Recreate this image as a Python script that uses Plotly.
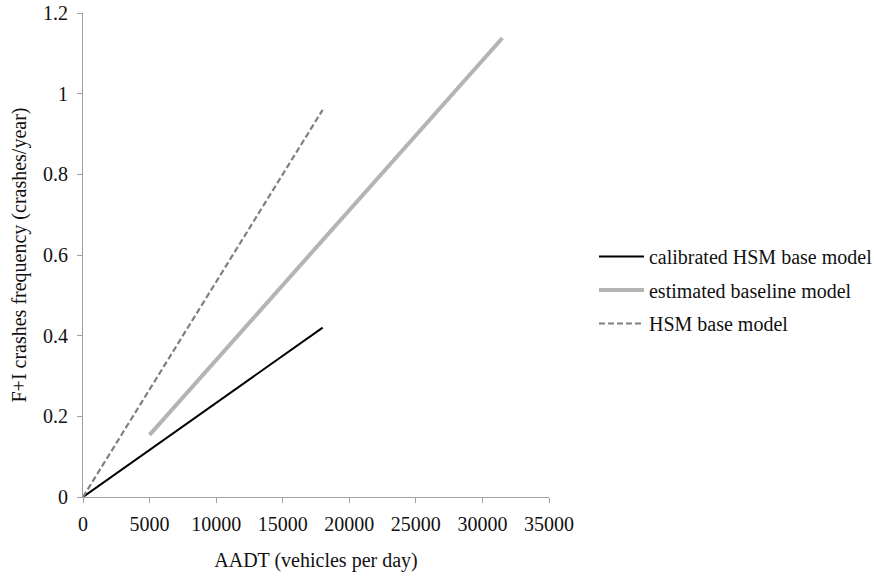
import plotly.graph_objects as go

# Data
calib_x = [0, 5000, 10000, 15000, 18000]
calib_y = [0, 0.117, 0.233, 0.35, 0.42]

est_x = [5000, 10000, 15000, 20000, 25000, 30000, 31500]
est_y = [0.154, 0.34, 0.526, 0.712, 0.897, 1.083, 1.138]

hsm_x = [0, 5000, 10000, 15000, 18000]
hsm_y = [0, 0.267, 0.533, 0.8, 0.96]

font_family = "Liberation Serif, Times New Roman, serif"

fig = go.Figure()
fig.add_trace(go.Scatter(x=calib_x, y=calib_y, mode="lines",
                         name="calibrated HSM base model", legendgroup="a",
                         line=dict(color="black", width=2)))
fig.add_trace(go.Scatter(x=est_x, y=est_y, mode="lines",
                         name="estimated baseline model", legendgroup="b",
                         line=dict(color="#b4b4b4", width=4)))
fig.add_trace(go.Scatter(x=hsm_x, y=hsm_y, mode="lines",
                         name="HSM base model", legendgroup="c",
                         line=dict(color="#7f7f7f", width=2.2, dash="6px,3px")))

fig.update_layout(
    width=874, height=576,
    margin=dict(l=83, r=325, t=13, b=79),
    plot_bgcolor="white", paper_bgcolor="white",
    font=dict(family=font_family, size=20, color="#111111"),
    showlegend=True,
    legend=dict(xref="container", yref="container",
                x=0.6796, y=0.5885, xanchor="left", yanchor="top",
                itemwidth=45, font=dict(size=20), bgcolor="rgba(0,0,0,0)",
                tracegroupgap=4.5),
)
fig.update_xaxes(range=[0, 35000], dtick=5000, tickformat="d",
                 showgrid=False, zeroline=False, showline=True,
                 linecolor="#a0a0a0", linewidth=1, ticks="outside",
                 tickcolor="#a0a0a0", ticklen=5, ticklabelstandoff=4,
                 automargin=False, ticklabeloverflow="allow",
                 title=dict(text="AADT (vehicles per day)", standoff=18,
                            font=dict(size=20)))
fig.update_yaxes(range=[0, 1.2], dtick=0.2,
                 showgrid=False, zeroline=False, showline=True,
                 linecolor="#a0a0a0", linewidth=1, ticks="outside",
                 tickcolor="#a0a0a0", ticklen=5, ticklabelstandoff=5,
                 automargin=False, ticklabeloverflow="allow",
                 title=dict(text="F+I crashes frequency (crashes/year)", standoff=11,
                            font=dict(size=20)))

fig.write_html("out.html",
               config={"displayModeBar": False},
               post_script="document.body.style.margin='0';document.body.style.padding='0';")
